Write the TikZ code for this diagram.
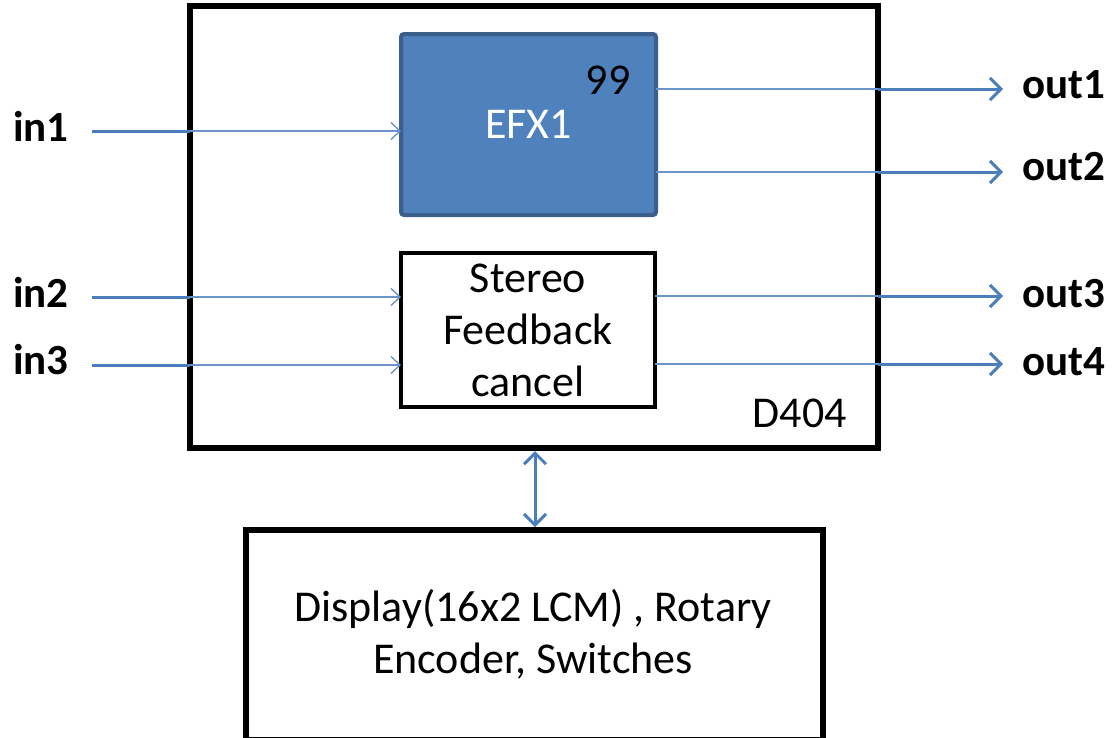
\documentclass[tikz,border=0pt]{standalone}
\usepackage{fontspec}
\setmainfont{Carlito}
\usetikzlibrary{arrows.meta}
\definecolor{lineblue}{HTML}{4A7EBB}
\definecolor{thinblue}{HTML}{6B94C8}
\definecolor{efxfill}{HTML}{4F81BD}
\definecolor{efxdraw}{HTML}{3A5F8B}
\begin{document}
\begin{tikzpicture}[x=1pt,y=-1pt,
  txt/.style={font=\fontsize{44}{52}\selectfont, inner sep=0pt},
  lbl/.style={font=\fontsize{43}{52}\selectfont\bfseries, inner sep=0pt},
  blockbox/.style={draw=black, outer sep=0pt, inner sep=0pt},
  sigouter/.style={draw=lineblue, line width=3pt},
  siginner/.style={draw=thinblue, line width=1.4pt},
  outtip/.style={-{Straight Barb[length=11pt,width=22pt]}},
  intip/.style={-{Straight Barb[length=9pt,width=17pt]}},
]
\useasboundingbox (0,0) rectangle (1114,737);

% boxes
\node[blockbox, line width=6pt, minimum width=688pt, minimum height=442pt] (d404) at (534,227) {};
\node[blockbox, draw=efxdraw, fill=efxfill, line width=4pt, rounded corners=3pt,
      minimum width=255pt, minimum height=181pt, txt, text=white] (efx) at (528.5,124.5) {EFX1};
\node[blockbox, line width=3.5pt, minimum width=254pt, minimum height=154pt] (sfc) at (528,330) {};
\node[blockbox, line width=5.5pt, minimum width=577pt, minimum height=210pt] (disp) at (534.5,635) {};

% texts
\node[txt, anchor=base] (n99) at (608,94) {99};
\node[txt, anchor=base east] (d404lbl) at (847,427) {D404};
\node[txt, align=center] (sfclbl) at (528,330) {Stereo\\Feedback\\cancel};
\node[txt, align=center] (displbl) at (533,634) {Display(16x2 LCM) , Rotary\\Encoder, Switches};

% labels
\node[lbl, anchor=base west] (in1) at (13,141) {in1};
\node[lbl, anchor=base west] (in2) at (13,307) {in2};
\node[lbl, anchor=base west] (in3) at (13,374) {in3};
\node[lbl, anchor=base west] (out1) at (1022,98) {out1};
\node[lbl, anchor=base west] (out2) at (1022,180) {out2};
\node[lbl, anchor=base west] (out3) at (1022,307) {out3};
\node[lbl, anchor=base west] (out4) at (1022,375) {out4};

% connector ends
\coordinate (s1) at (92,131);
\coordinate (s2) at (92,297);
\coordinate (s3) at (92,365);
\coordinate (e1) at (1003,89);
\coordinate (e2) at (1003,172);
\coordinate (e3) at (1003,296);
\coordinate (e4) at (1003,364);

% inputs
\draw[sigouter] (s1) -- (d404.west |- s1);
\draw[siginner, intip] (d404.west |- s1) -- (efx.west |- s1);
\draw[sigouter] (s2) -- (d404.west |- s2);
\draw[siginner, intip] (d404.west |- s2) -- (sfc.west |- s2);
\draw[sigouter] (s3) -- (d404.west |- s3);
\draw[siginner, intip] (d404.west |- s3) -- (sfc.west |- s3);

% outputs
\draw[siginner] (efx.east |- e1) -- (d404.east |- e1);
\draw[sigouter, outtip] (d404.east |- e1) -- (e1);
\draw[siginner] (efx.east |- e2) -- (d404.east |- e2);
\draw[sigouter, outtip] (d404.east |- e2) -- (e2);
\draw[siginner] (sfc.east |- e3) -- (d404.east |- e3);
\draw[sigouter, outtip] (d404.east |- e3) -- (e3);
\draw[siginner] (sfc.east |- e4) -- (d404.east |- e4);
\draw[sigouter, outtip] (d404.east |- e4) -- (e4);

% bus
\draw[sigouter, {Straight Barb[length=11pt,width=22pt]}-{Straight Barb[length=11pt,width=22pt]}]
  ([yshift=-3pt]d404.south -| 535,0) -- ([yshift=3pt]disp.north -| 535,0);
\end{tikzpicture}
\end{document}
